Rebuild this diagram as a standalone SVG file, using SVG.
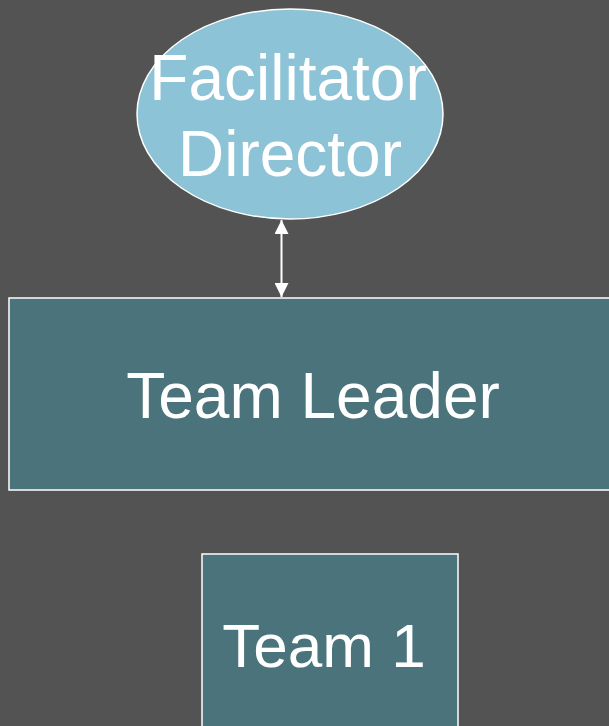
<svg xmlns="http://www.w3.org/2000/svg" width="609" height="726" viewBox="0 0 609 726">
<style>
.lbl{font-family:"Liberation Sans",Arial,sans-serif;fill:#ffffff;text-anchor:middle;font-size:64px}
.box{fill:#4a737c;stroke:#ffffff;stroke-width:1.5}
</style>
<defs>
<marker id="ah" viewBox="0 0 10 10" refX="10" refY="5" markerWidth="14" markerHeight="14" markerUnits="userSpaceOnUse" orient="auto-start-reverse">
<path d="M0,0 L10,5 L0,10 z" fill="#ffffff"/>
</marker>
</defs>
<rect width="609" height="726" fill="#535353"/>
<g id="connectors">
<line x1="281.5" y1="220" x2="281.5" y2="297" stroke="#ffffff" stroke-width="2" marker-start="url(#ah)" marker-end="url(#ah)"/>
</g>
<g id="facilitator">
<ellipse cx="290" cy="114" rx="153" ry="105" fill="#8dc3d7" stroke="#ffffff" stroke-width="1.5"/>
<text class="lbl" x="288" y="100">Facilitator</text>
<text class="lbl" x="290" y="176">Director</text>
</g>
<g id="team-leader">
<rect class="box" x="9" y="298" width="610" height="192"/>
<text class="lbl" x="313" y="418">Team Leader</text>
</g>
<g id="team1">
<rect class="box" x="202" y="554" width="256" height="190"/>
<text class="lbl" x="324" y="667" style="font-size:62px">Team 1</text>
</g>
</svg>
